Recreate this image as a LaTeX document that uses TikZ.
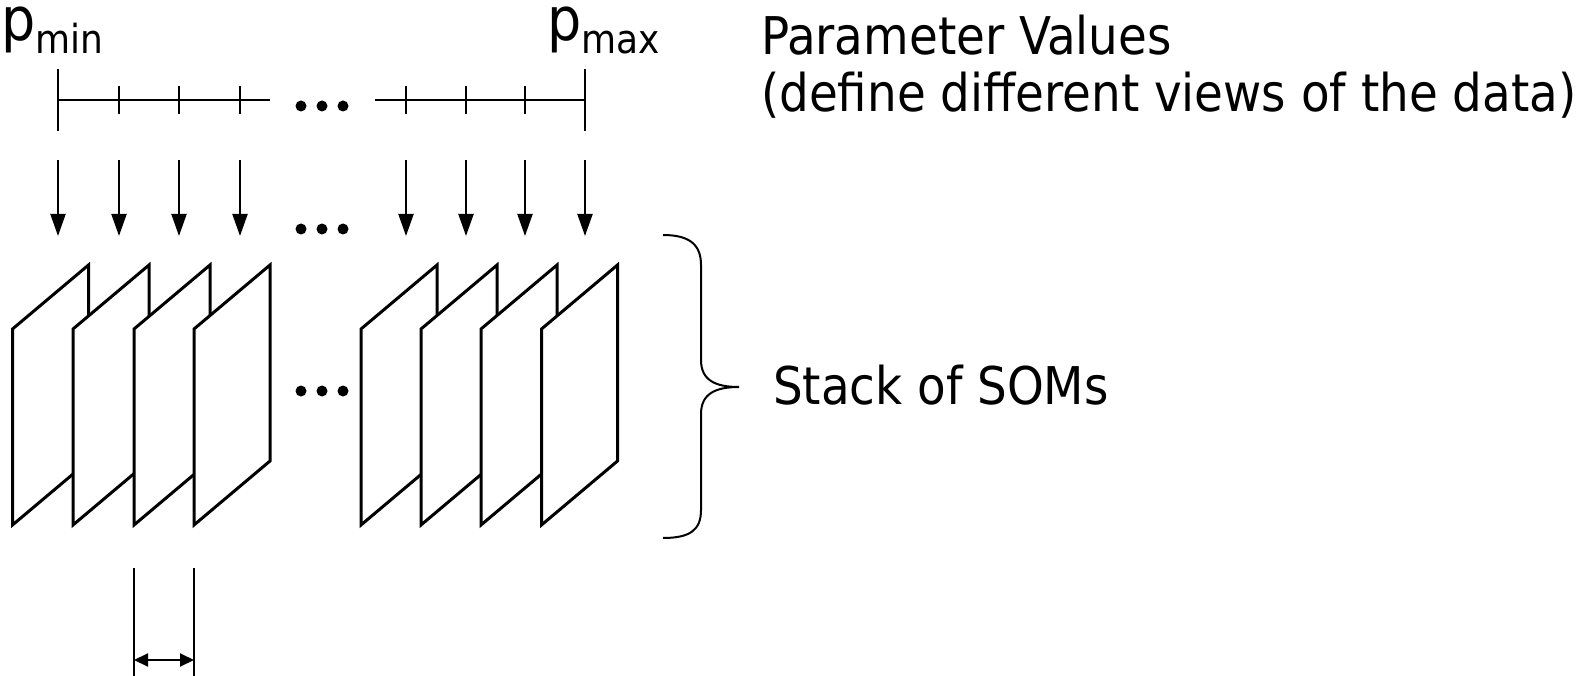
\documentclass[tikz,border=0pt]{standalone}
\usepackage{fontspec}
\setmainfont{DejaVu Sans Condensed}
\usetikzlibrary{arrows.meta}

\tikzset{
  som/.style={draw, line width=3pt, fill=white, line join=miter},
  axisline/.style={line width=2pt},
  feed/.style={-{Triangle[length=22pt,width=15pt]}, line width=2pt},
  gap/.style={{Triangle[length=14pt,width=13pt]}-{Triangle[length=14pt,width=13pt]}, line width=2pt},
  guide/.style={line width=1.6pt},
  label/.style={inner sep=0pt, anchor=base west, font=\fontsize{52}{58}\selectfont},
}

\begin{document}
\begin{tikzpicture}[x=1pt, y=-1pt]
  \useasboundingbox (0,0) rectangle (1581,676);

  % parameter axis
  \node[inner sep=0pt, anchor=base west] (pmin) at (1,41)
    {\fontsize{60}{60}\selectfont p\raisebox{-13pt}{\fontsize{40}{40}\selectfont min}};
  \node[inner sep=0pt, anchor=base west] (pmax) at (547,41)
    {\fontsize{60}{60}\selectfont p\raisebox{-13pt}{\fontsize{40}{40}\selectfont max}};
  \draw[axisline] (58,100) -- (270,100);
  \draw[axisline] (375,100) -- (585,100);
  \draw[axisline] (58,69) -- (58,131);
  \draw[axisline] (585,69) -- (585,131);
  \foreach \x in {119,179,240,406,466,525}
    \draw[axisline] (\x,86) -- (\x,114);

  \node[label] (params) at (761,55) {Parameter Values};
  \node[label] (views) at (761,112) {(define different views of the data)};

  % one arrow per parameter value
  \foreach \x [count=\i] in {58,119,179,240,406,466,525,585} {
    \coordinate (t\i) at (\x,160);
    \coordinate (s\i) at (\x,236);
    \draw[feed] (t\i) -- (s\i);
  }

  % dots
  \foreach \y in {106,229,391}
    \foreach \x in {301,322,343}
      \fill (\x,\y) circle (5.5pt);

  % stack of SOMs
  \foreach \x in {12.5,73,134,194,361,421,481,541.5}
    \draw[som] (\x,329) -- (\x+76,265) -- (\x+76,461) -- (\x,525) -- cycle;

  \draw[axisline] (663,235) .. controls (690,235) and (701,245) .. (701,265)
    -- (701,360) .. controls (701,380) and (715,387) .. (739,387)
    .. controls (715,387) and (701,394) .. (701,414)
    -- (701,510) .. controls (701,530) and (690,538) .. (663,538);
  \node[label] (stack) at (773,404) {Stack of SOMs};

  % spacing between neighbouring SOMs
  \coordinate (g1) at (134,660);
  \coordinate (g2) at (194,660);
  \draw[guide] (134,568) -- (134,676);
  \draw[guide] (194,568) -- (194,676);
  \draw[gap] (g1) -- (g2);
\end{tikzpicture}
\end{document}
